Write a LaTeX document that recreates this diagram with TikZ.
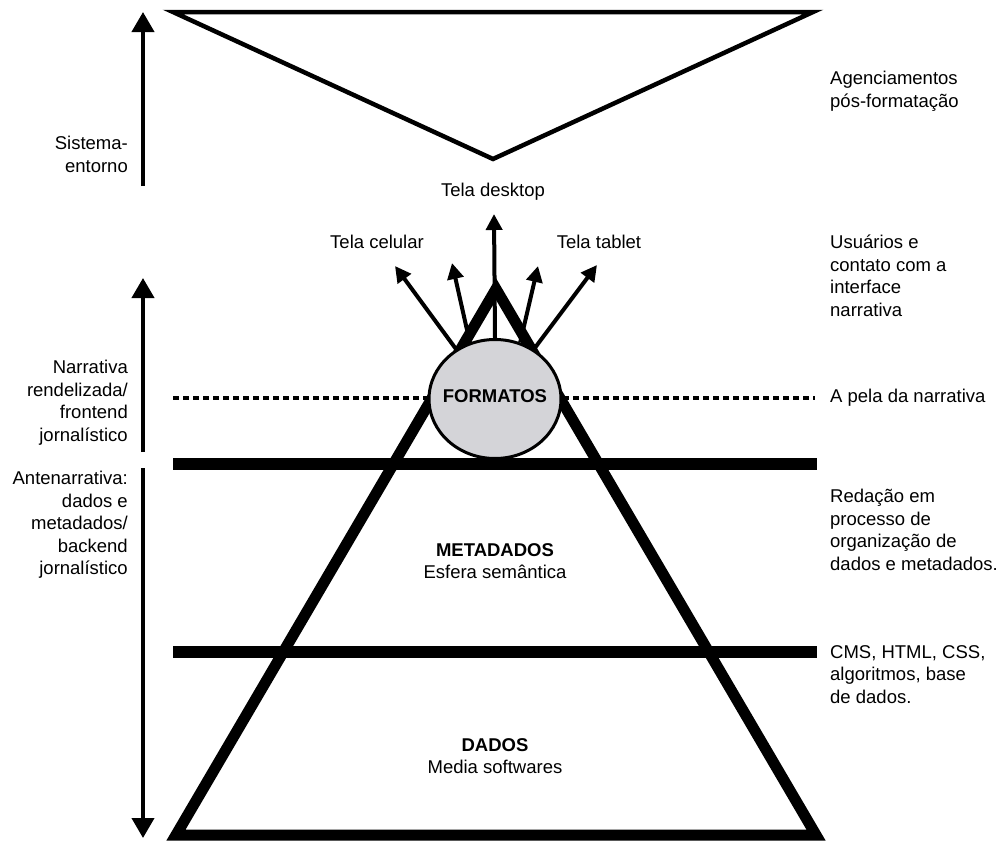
\documentclass[tikz,border=0pt]{standalone}
\usepackage{fontspec}
\setmainfont{Liberation Sans}
\usetikzlibrary{arrows.meta,shapes.geometric}
\definecolor{fmtgray}{RGB}{212,212,216}
\begin{document}
\begin{tikzpicture}[x=1pt,y=-1pt,
  lbl/.style={font=\fontsize{18.5}{22.5}\selectfont, inner sep=0pt},
  thickline/.style={line width=11.5pt},
  axisarrow/.style={line width=4pt, -{Triangle[width=22pt,length=20pt]}},
  telaarrow/.style={line width=4pt, -{Triangle[width=16pt,length=16pt]}},
  dotline/.style={line width=4pt, dash pattern=on 6pt off 4pt},
]
\useasboundingbox (0,0) rectangle (1005,841);

% top inverted triangle
\coordinate (tl) at (173,12);
\coordinate (tr) at (813,12);
\coordinate (tb) at (493,159);
\draw[line width=4.5pt, line join=miter] (tl) -- (tr) -- (tb) -- cycle;

% dotted skin line
\coordinate (dl) at (173,398);
\coordinate (dr) at (815,398);
\draw[dotline] (dl) -- (dr);

% pyramid
\coordinate (pa) at (496,289);
\coordinate (pl) at (176,835);
\coordinate (pr) at (816,835);
\draw[line width=11pt, line join=miter] (pa) -- (pr) -- (pl) -- cycle;

% horizontal thick lines
\coordinate (h1a) at (173,464);
\coordinate (h1b) at (817,464);
\coordinate (h2a) at (173,652);
\coordinate (h2b) at (817,652);
\draw[thickline] (h1a) -- (h1b);
\draw[thickline] (h2a) -- (h2b);

% formatos ellipse
\node[ellipse, draw, line width=3pt, fill=fmtgray, minimum width=132pt, minimum height=119pt,
      inner sep=0pt] (fmt) at (495,399) {};
\node[lbl, font=\fontsize{18.5}{22.5}\selectfont\bfseries] (fmtlbl) at (495,396) {FORMATOS};

% screen arrows
\coordinate (tipD) at (494,214);
\coordinate (tipC) at (395,266);
\coordinate (tipCi) at (452,263);
\coordinate (tipTi) at (538,266);
\coordinate (tipT) at (597,265);
\draw[telaarrow] (fmt.north) -- (tipD);
\draw[telaarrow] (fmt.128) -- (tipC);
\draw[telaarrow] (fmt.114) -- (tipCi);
\draw[telaarrow] (fmt.66) -- (tipTi);
\draw[telaarrow] (fmt.52) -- (tipT);

\node[lbl] (desk) at (493,192) {Tela desktop};
\node[lbl] (cel) at (377,242) {Tela celular};
\node[lbl] (tab) at (599,242) {Tela tablet};

% centre labels
\node[lbl, align=center] (meta) at (495,561) {\textbf{METADADOS}\\Esfera semântica};
\node[lbl, align=center] (dados) at (495,756) {\textbf{DADOS}\\Media softwares};

% left axis arrows
\coordinate (a1s) at (143,186);
\coordinate (a1e) at (143,12);
\coordinate (a2s) at (143,452);
\coordinate (a2e) at (143,278);
\coordinate (a3s) at (143,468);
\coordinate (a3e) at (143,838);
\draw[axisarrow] (a1s) -- (a1e);
\draw[axisarrow] (a2s) -- (a2e);
\draw[axisarrow] (a3s) -- (a3e);

% left labels
\node[lbl, anchor=north east, align=right] (sis) at (128,136) {Sistema-\\entorno};
\node[lbl, anchor=north east, align=right] (nar) at (128,360) {Narrativa\\rendelizada/\\frontend\\jornalístico};
\node[lbl, anchor=north east, align=right] (ante) at (128,471) {Antenarrativa:\\dados e\\metadados/\\backend\\jornalístico};

% right labels
\node[lbl, anchor=north west, align=left] (agen) at (830,71) {Agenciamentos\\pós-formatação};
\node[lbl, anchor=north west, align=left] (usu) at (830,235) {Usuários e\\contato com a\\interface\\narrativa};
\node[lbl, anchor=west] (pele) at (830,398) {A pela da narrativa};
\node[lbl, anchor=north west, align=left] (red) at (830,489) {Redação em\\processo de\\organização de\\dados e metadados.};
\node[lbl, anchor=north west, align=left] (cms) at (830,645) {CMS, HTML, CSS,\\algoritmos, base\\de dados.};
\end{tikzpicture}
\end{document}
